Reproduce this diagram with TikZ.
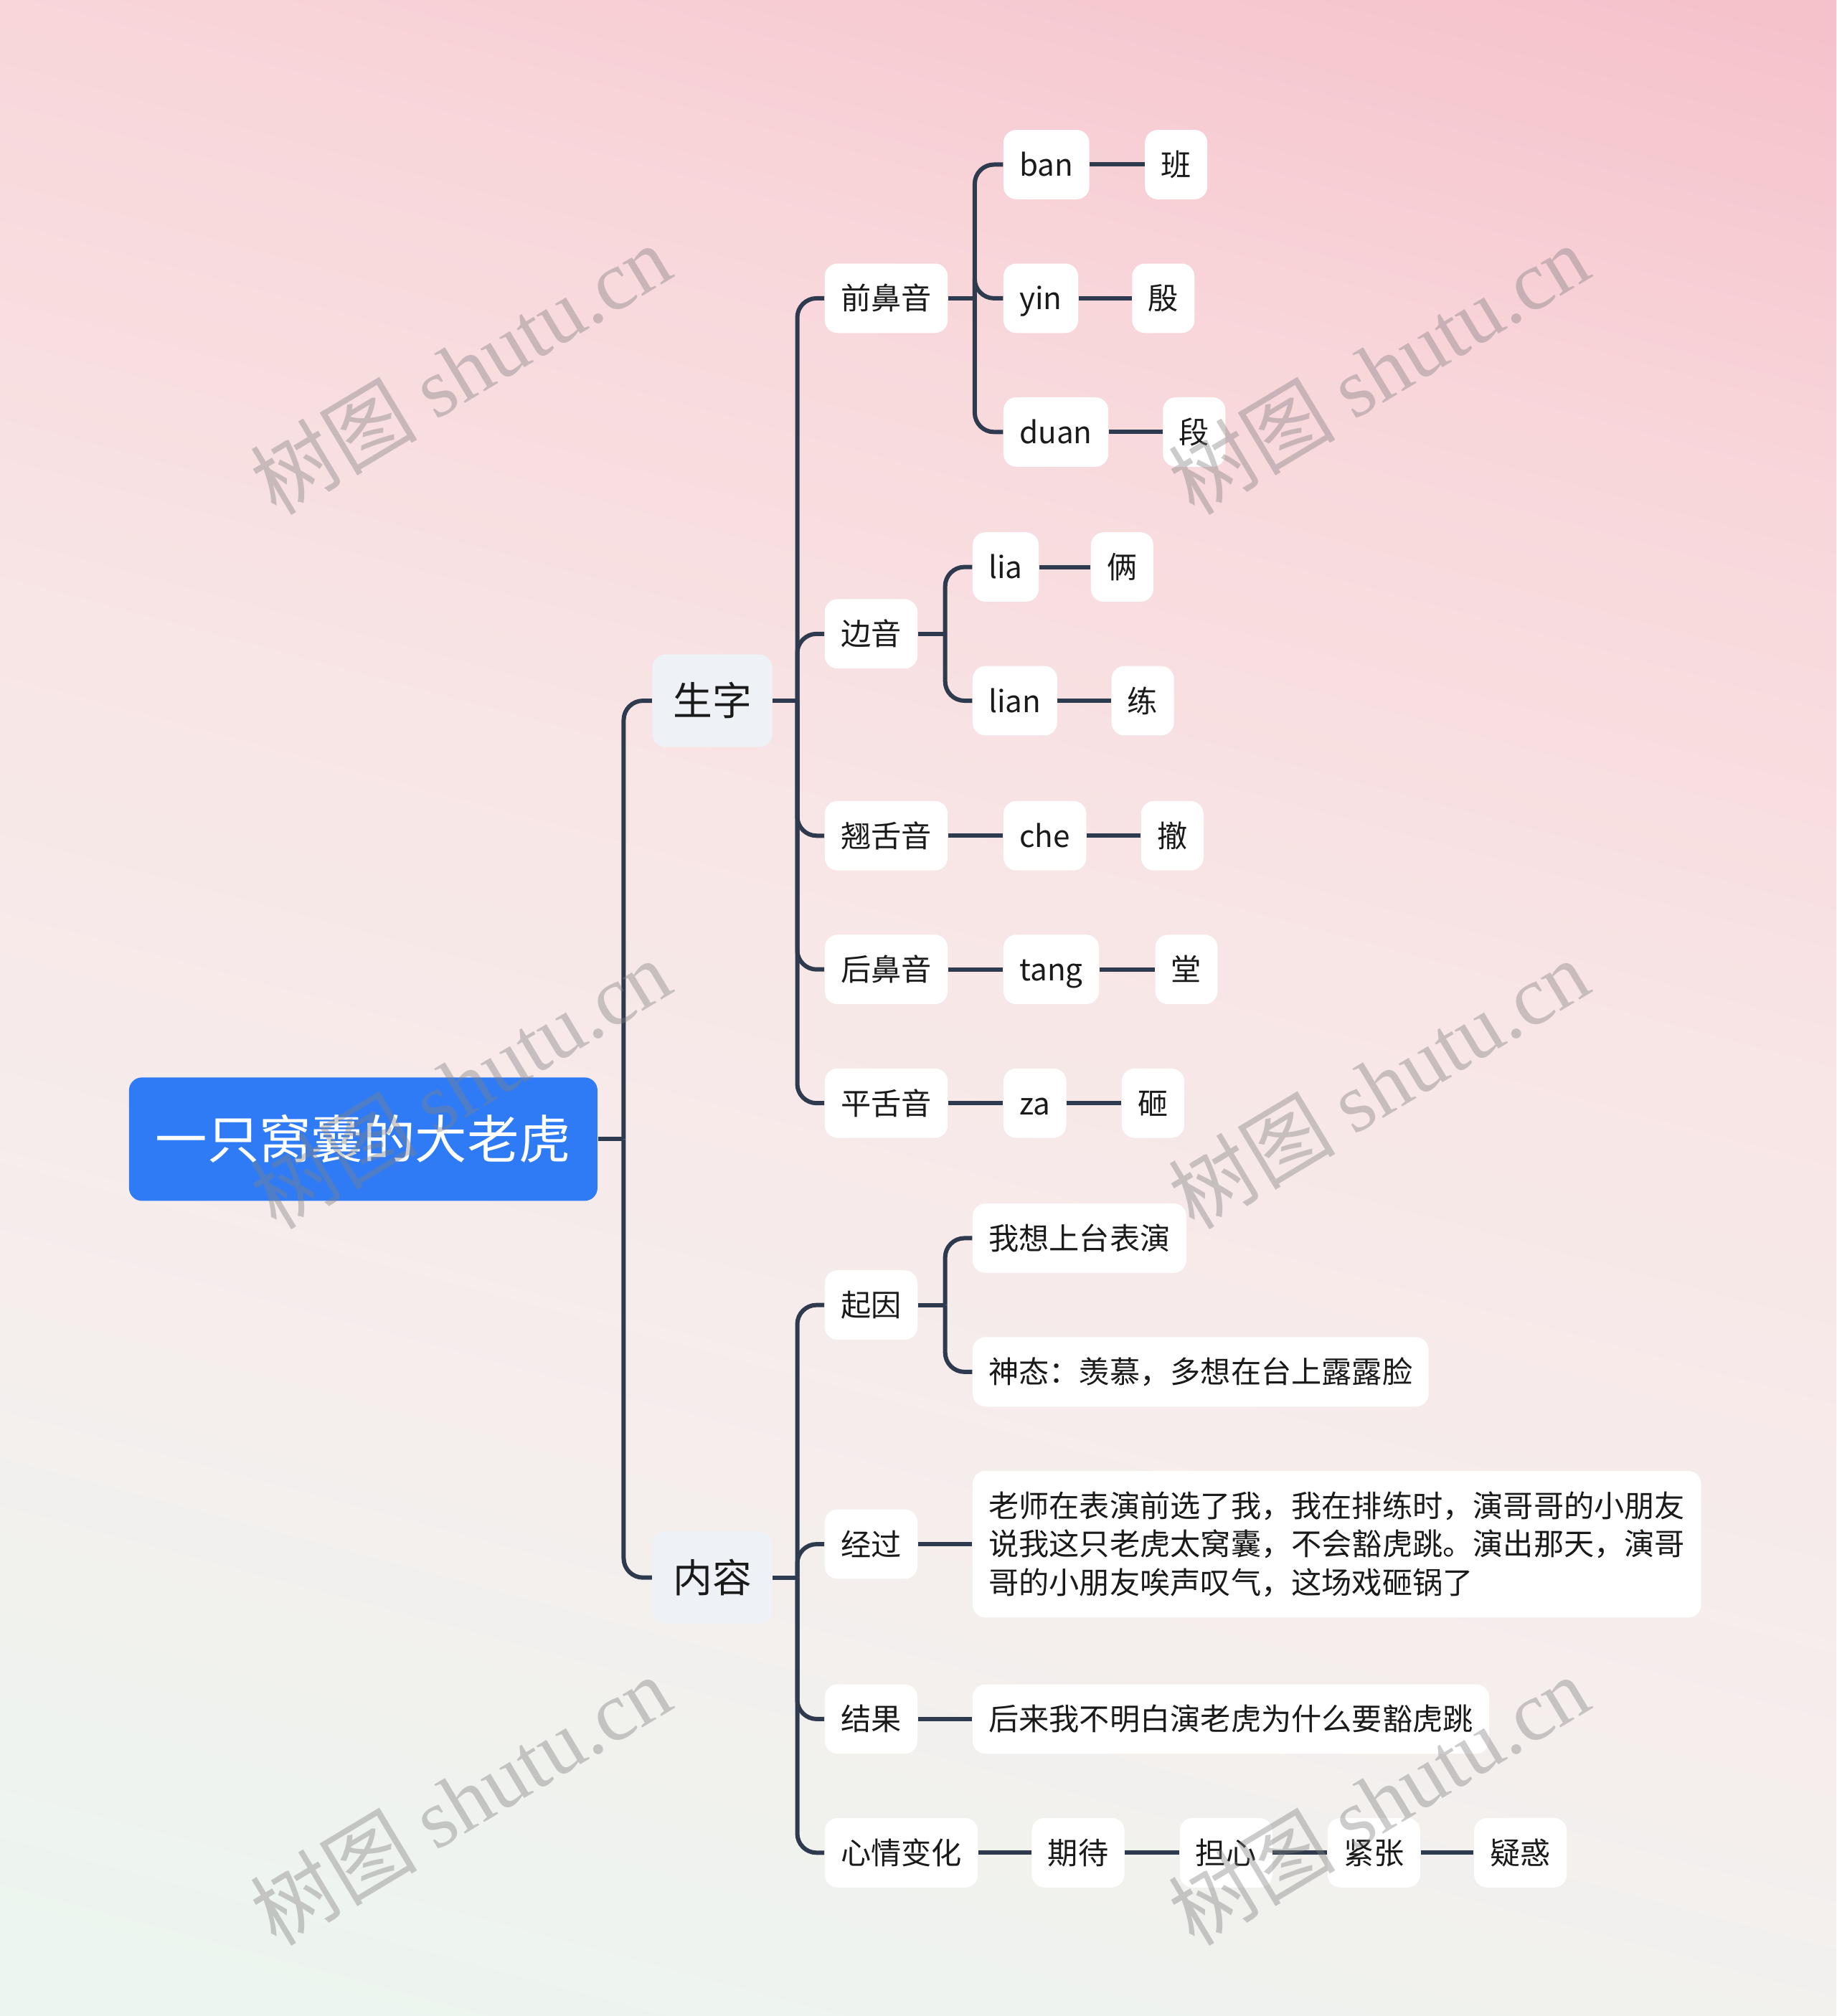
\documentclass[tikz,border=0pt]{standalone}
\usepackage{fontspec}
\setmainfont{Noto Sans CJK SC}
\newfontfamily\wmserif{Liberation Serif}
\definecolor{linec}{HTML}{2E3A4D}
\definecolor{rootc}{HTML}{2F7BF6}
\definecolor{lvone}{HTML}{EEF2F6}
\definecolor{txtc}{HTML}{1A1A1A}
\definecolor{bgtop}{HTML}{F5C0CA}
\definecolor{bgup}{HTML}{F8D6DA}
\definecolor{bgmid}{HTML}{F8E6E6}
\definecolor{bglow}{HTML}{F5EEED}
\definecolor{bgbot}{HTML}{EBF6F0}
\pgfdeclareverticalshading{bgshade}{100bp}{color(0bp)=(bgbot); color(25bp)=(bgbot); color(40bp)=(bglow); color(52.5bp)=(bgmid); color(65bp)=(bgup); color(75bp)=(bgtop); color(100bp)=(bgtop)}
\begin{document}
\begin{tikzpicture}[x=0.02cm,y=-0.02cm,
  rootbox/.style={fill=rootc, text=white, rounded corners=0.2cm, minimum height=1.92cm, inner xsep=0.41cm, font=\fontsize{23pt}{28pt}\selectfont, text height=20.2pt, text depth=2.8pt, anchor=west},
  onebox/.style={fill=lvone, text=txtc, rounded corners=0.2cm, minimum height=1.44cm, inner xsep=0.32cm, font=\fontsize{17.4pt}{21pt}\selectfont, text height=15.3pt, text depth=2.1pt, anchor=west},
  basebox/.style={fill=white, text=txtc, rounded corners=0.2cm, minimum height=1.08cm, inner xsep=0.25cm, font=\fontsize{13.4pt}{17pt}\selectfont, anchor=west},
  twobox/.style={basebox, text height=11.8pt, text depth=1.6pt},
  conn/.style={draw=linec, line width=1.9pt, rounded corners=0.3cm},
  wm/.style={rotate=31, text=gray, opacity=0.4, font=\fontsize{37pt}{37pt}\selectfont}
]
\useasboundingbox (0,0) rectangle (1428,1568);
\begin{scope}
\clip (0,0) rectangle (1428,1568);
\begin{scope}[transform canvas={rotate around={-15:(714,784)}}]
\shade[shading=bgshade] (-186,-166) rectangle (1614,1734);
\end{scope}
\end{scope}

% nodes
\node[rootbox] (root) at (100,886) {一只窝囊的大老虎};
\node[onebox] (sz) at (507,545) {生字};
\node[onebox] (nr) at (507,1227) {内容};

\node[twobox] (qby) at (641,232) {前鼻音};
\node[twobox] (ban) at (780,128) {ban};
\node[twobox] (ban1) at (890,128) {班};
\node[twobox] (yin) at (780,232) {yin};
\node[twobox] (yin1) at (880,232) {殷};
\node[twobox] (duan) at (780,336) {duan};
\node[twobox] (duan1) at (904,336) {段};

\node[twobox] (by) at (641,493) {边音};
\node[twobox] (lia) at (756,441) {lia};
\node[twobox] (lia1) at (848,441) {俩};
\node[twobox] (lian) at (756,545) {lian};
\node[twobox] (lian1) at (864,545) {练};

\node[twobox] (qsy) at (641,650) {翘舌音};
\node[twobox] (che) at (780,650) {che};
\node[twobox] (che1) at (887,650) {撤};

\node[twobox] (hby) at (641,754) {后鼻音};
\node[twobox] (tang) at (780,754) {tang};
\node[twobox] (tang1) at (898,754) {堂};

\node[twobox] (psy) at (641,858) {平舌音};
\node[twobox] (za) at (780,858) {za};
\node[twobox] (za1) at (872,858) {砸};

\node[twobox] (qy) at (641,1015) {起因};
\node[twobox] (qy1) at (756,963) {我想上台表演};
\node[twobox] (qy2) at (756,1067) {神态：羡慕，多想在台上露露脸};

\node[twobox] (jg) at (641,1201) {经过};
\node[basebox, align=left, minimum height=2.28cm] (jg1) at (756,1201) {老师在表演前选了我，我在排练时，演哥哥的小朋友\\说我这只老虎太窝囊，不会豁虎跳。演出那天，演哥\\哥的小朋友唉声叹气，这场戏砸锅了};

\node[twobox] (jgg) at (641,1337) {结果};
\node[twobox] (jgg1) at (756,1337) {后来我不明白演老虎为什么要豁虎跳};

\node[twobox] (xq) at (641,1441) {心情变化};
\node[twobox] (xq1) at (802,1441) {期待};
\node[twobox] (xq2) at (917,1441) {担心};
\node[twobox] (xq3) at (1032,1441) {紧张};
\node[twobox] (xq4) at (1146,1441) {疑惑};

% bus points
\coordinate (b0) at (485,886);
\coordinate (b1) at (620,545);
\coordinate (b2) at (620,1227);
\coordinate (b3) at (758,232);
\coordinate (b4) at (735,493);
\coordinate (b5) at (735,1015);

% connectors
\draw[conn] (root.east) -- (b0);
\draw[conn] (b0) |- (sz.west);
\draw[conn] (b0) |- (nr.west);

\draw[conn] (sz.east) -- (b1);
\foreach \c in {qby,by,qsy,hby,psy} \draw[conn] (b1) |- (\c.west);

\draw[conn] (nr.east) -- (b2);
\foreach \c in {qy,jg,jgg,xq} \draw[conn] (b2) |- (\c.west);

\draw[conn] (qby.east) -- (b3);
\foreach \c in {ban,yin,duan} \draw[conn] (b3) |- (\c.west);

\draw[conn] (by.east) -- (b4);
\foreach \c in {lia,lian} \draw[conn] (b4) |- (\c.west);

\draw[conn] (qy.east) -- (b5);
\foreach \c in {qy1,qy2} \draw[conn] (b5) |- (\c.west);

\draw[conn] (ban.east) -- (ban1.west);
\draw[conn] (yin.east) -- (yin1.west);
\draw[conn] (duan.east) -- (duan1.west);
\draw[conn] (lia.east) -- (lia1.west);
\draw[conn] (lian.east) -- (lian1.west);
\draw[conn] (qsy.east) -- (che.west);
\draw[conn] (che.east) -- (che1.west);
\draw[conn] (hby.east) -- (tang.west);
\draw[conn] (tang.east) -- (tang1.west);
\draw[conn] (psy.east) -- (za.west);
\draw[conn] (za.east) -- (za1.west);
\draw[conn] (jg.east) -- (jg1.west);
\draw[conn] (jgg.east) -- (jgg1.west);
\draw[conn] (xq.east) -- (xq1.west);
\draw[conn] (xq1.east) -- (xq2.west);
\draw[conn] (xq2.east) -- (xq3.west);
\draw[conn] (xq3.east) -- (xq4.west);

% watermarks
\node[wm] (wm1) at (358,287) {树图 {\wmserif shutu.cn}};
\node[wm] (wm2) at (1072,287) {树图 {\wmserif shutu.cn}};
\node[wm] (wm3) at (358,843) {树图 {\wmserif shutu.cn}};
\node[wm] (wm4) at (1072,843) {树图 {\wmserif shutu.cn}};
\node[wm] (wm5) at (358,1400) {树图 {\wmserif shutu.cn}};
\node[wm] (wm6) at (1072,1400) {树图 {\wmserif shutu.cn}};
\end{tikzpicture}
\end{document}
